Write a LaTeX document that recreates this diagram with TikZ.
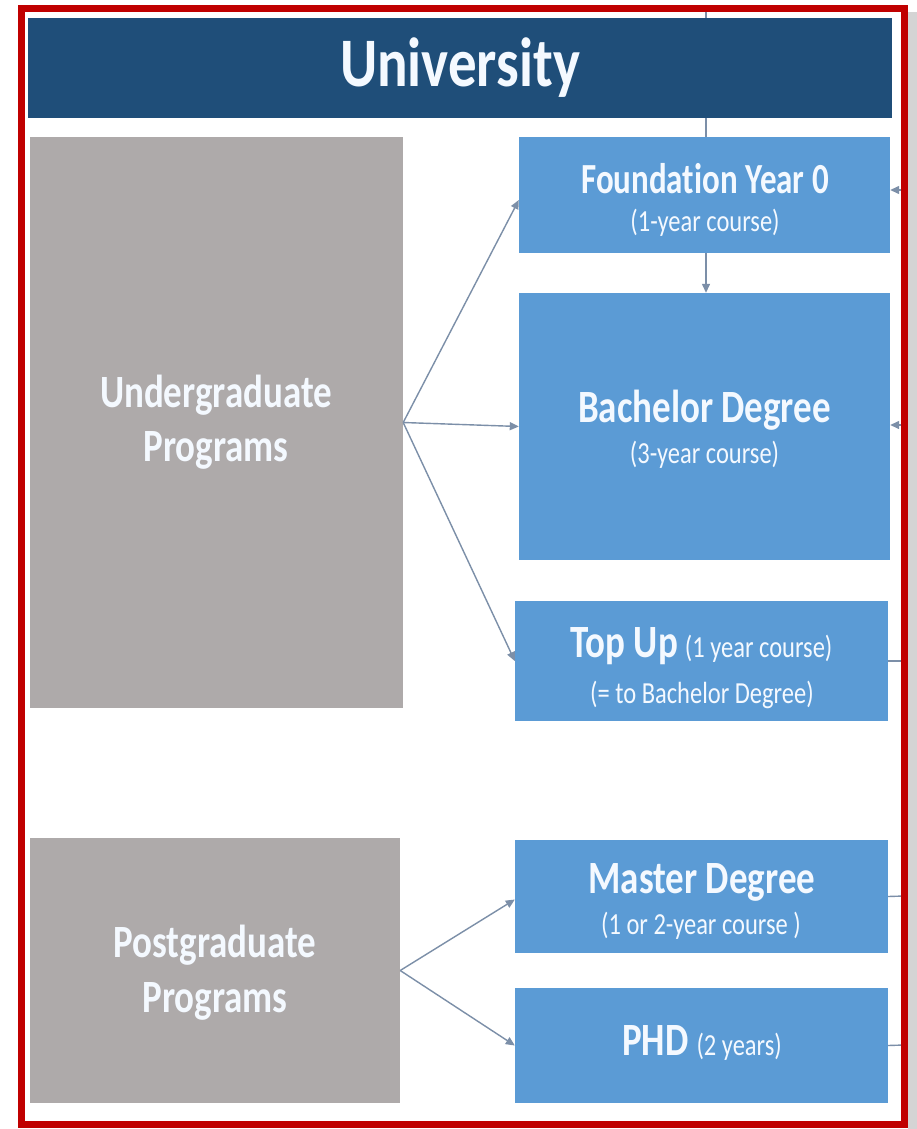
\documentclass[tikz,border=0pt]{standalone}
\usepackage{fontspec}
\setmainfont{Carlito}[Ligatures=NoCommon]
\usetikzlibrary{arrows.meta}
\definecolor{hdrblue}{HTML}{1F4E79}
\definecolor{boxblue}{HTML}{5B9BD5}
\definecolor{boxgray}{HTML}{AEAAAA}
\definecolor{conncol}{HTML}{7C8FA8}
\definecolor{framered}{HTML}{C00000}
\definecolor{shadowgray}{HTML}{D4D4D4}
\definecolor{txtwhite}{HTML}{F4F9FF}
\newcommand{\TxtHuge}[1]{\scalebox{1}[1.22]{\fontsize{57}{60}\selectfont\bfseries #1}}
\newcommand{\TxtBig}[1]{\scalebox{1}[1.25]{\fontsize{37}{40}\selectfont\bfseries #1}}
\newcommand{\TxtMid}[1]{\scalebox{1}[1.3]{\fontsize{33}{36}\selectfont\bfseries #1}}
\newcommand{\TxtSmall}[1]{\scalebox{1}[1.25]{\fontsize{24.5}{28}\selectfont #1}}
\tikzset{
  boxg/.style={fill=boxgray, draw=none, inner sep=0pt},
  boxb/.style={fill=boxblue, draw=none, inner sep=0pt},
  hdr/.style={fill=hdrblue, draw=none, inner sep=0pt},
  txt/.style={text=txtwhite, inner sep=0pt, anchor=base},
  conn/.style={draw=conncol, line width=1.4pt},
  arr/.style={conn, -{Triangle[length=9pt,width=8pt]}},
}
\begin{document}
\begin{tikzpicture}[x=1pt,y=-1pt]
\useasboundingbox (0,0) rectangle (917,1129);
\fill[white] (0,0) rectangle (917,1129);
\fill[shadowgray] (908,12) rectangle (917,1129);

% boxes
\node[boxg, minimum width=373pt, minimum height=571pt] (ug) at (216.5,422.5) {};
\node[boxb, minimum width=371pt, minimum height=116pt] (fy) at (704.5,195) {};
\node[boxb, minimum width=371pt, minimum height=267pt] (ba) at (704.5,426.5) {};
\node[boxb, minimum width=373pt, minimum height=120pt] (tu) at (701.5,661) {};
\node[boxg, minimum width=370pt, minimum height=265pt] (pg) at (215,970.5) {};
\node[boxb, minimum width=373pt, minimum height=113pt] (ma) at (701.5,896.5) {};
\node[boxb, minimum width=373pt, minimum height=115pt] (ph) at (701.5,1045.5) {};

% vertical line from above, behind header
\coordinate (topc) at (706,10);
\draw[conn] (topc) -- (topc |- fy.north);

% header
\node[hdr, minimum width=864pt, minimum height=100pt] (uni) at (460,68) {};
\node[txt] (uniT) at (460,87) {\TxtHuge{University}};

% texts
\node[txt] (ugT1) at (216,407) {\TxtBig{Undergraduate}};
\node[txt] (ugT2) at (216,461) {\TxtBig{Programs}};
\node[txt] (fyT1) at (705,193) {\TxtMid{Foundation Year 0}};
\node[txt] (fyT2) at (705,231) {\TxtSmall{(1-year course)}};
\node[txt] (baT1) at (704.5,422) {\TxtBig{Bachelor Degree}};
\node[txt] (baT2) at (704.5,463) {\TxtSmall{(3-year course)}};
\node[txt] (tuT1) at (701.5,657) {\TxtBig{Top Up}\hspace{7pt}\TxtSmall{(1 year course)}};
\node[txt] (tuT2) at (702,703) {\TxtSmall{(= to Bachelor Degree)}};
\node[txt] (pgT1) at (215,957) {\TxtBig{Postgraduate}};
\node[txt] (pgT2) at (215,1012) {\TxtBig{Programs}};
\node[txt] (maT1) at (702,893) {\TxtBig{Master Degree}};
\node[txt] (maT2) at (701,934) {\TxtSmall{(1 or 2-year course )}};
\node[txt] (phT1) at (702,1055) {\TxtBig{PHD}\hspace{8pt}\TxtSmall{(2 years)}};

% connectors
\draw[arr] (ug.east) -- ([yshift=-5pt]fy.west);
\draw[arr] (ug.east) -- (ba.west);
\draw[arr] (ug.east) -- (tu.west);
\draw[arr] (pg.east) -- ([yshift=-3pt]ma.west);
\draw[arr] (pg.east) -- (ph.west);
\draw[arr] (fy.south -| topc) -- (ba.north -| topc);

\coordinate (rfy) at (904,190);
\coordinate (rba) at (904,425);
\coordinate (rtu) at (904,661);
\coordinate (rma) at (904,896);
\coordinate (rph) at (904,1045);
\draw[arr] (rfy) -- (rfy -| fy.east);
\draw[arr] (rba) -- (rba -| ba.east);
\draw[conn] (tu.east) -- (rtu);
\draw[conn] (ma.east) -- (rma);
\draw[conn] (ph.east) -- (rph);

% red frame
\draw[framered, line width=7pt] (21,9) rectangle (904,1124);
\end{tikzpicture}
\end{document}
